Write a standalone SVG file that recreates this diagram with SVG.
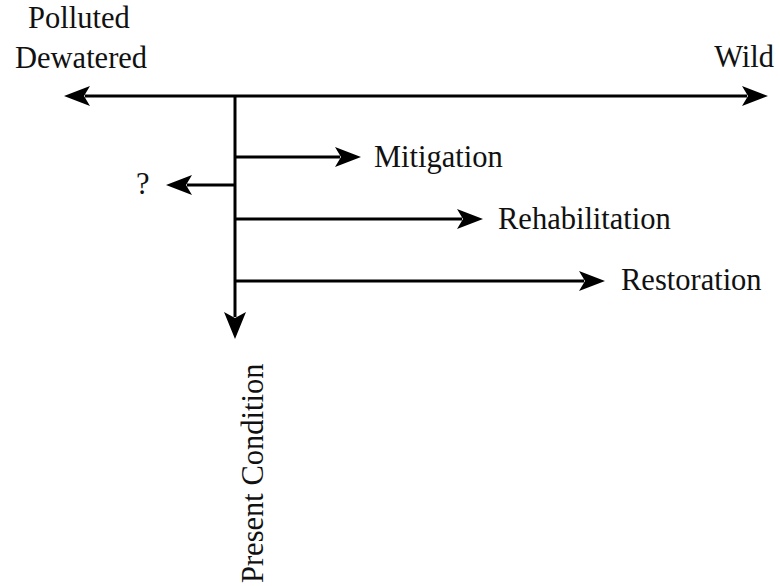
<svg xmlns="http://www.w3.org/2000/svg" width="780" height="586" viewBox="0 0 780 586">
<style>
.ln{stroke:#000;stroke-width:3;fill:none}
text{font-family:'Liberation Serif','Times New Roman',serif;font-size:30.5px;fill:#111}
</style>
<defs>
<marker id="ah" markerUnits="userSpaceOnUse" viewBox="0 0 26 20" refX="5" refY="10" markerWidth="26" markerHeight="20" orient="auto">
<path d="M0,0 L26,10 L0,20 L6,10 Z" fill="#000"/>
</marker>
<marker id="ahs" markerUnits="userSpaceOnUse" viewBox="0 0 26 20" refX="5" refY="10" markerWidth="26" markerHeight="20" orient="auto-start-reverse">
<path d="M0,0 L26,10 L0,20 L6,10 Z" fill="#000"/>
</marker>
<marker id="ahv" markerUnits="userSpaceOnUse" viewBox="0 0 27 22" refX="5" refY="11" markerWidth="27" markerHeight="22" orient="auto">
<path d="M0,0 L27,11 L0,22 L6,11 Z" fill="#000"/>
</marker>
</defs>
<g id="connectors">
<line class="ln" x1="85" y1="96" x2="747" y2="96" marker-start="url(#ahs)" marker-end="url(#ah)"/>
<line class="ln" x1="235" y1="96" x2="235" y2="317" marker-end="url(#ahv)"/>
<line class="ln" x1="235" y1="157" x2="340" y2="157" marker-end="url(#ah)"/>
<line class="ln" x1="235" y1="185" x2="187" y2="185" marker-end="url(#ah)"/>
<line class="ln" x1="235" y1="219" x2="462" y2="219" marker-end="url(#ah)"/>
<line class="ln" x1="235" y1="281" x2="584" y2="281" marker-end="url(#ah)"/>
</g>
<g id="polluted"><text x="28" y="28">Polluted</text></g>
<g id="dewatered"><text x="15" y="68">Dewatered</text></g>
<g id="wild"><text x="774" y="67" text-anchor="end">Wild</text></g>
<g id="mitigation"><text x="374" y="167">Mitigation</text></g>
<g id="question"><text x="136" y="194">?</text></g>
<g id="rehabilitation"><text x="498" y="229">Rehabilitation</text></g>
<g id="restoration"><text x="621" y="290">Restoration</text></g>
<g id="present"><text transform="translate(263,583) rotate(-90)">Present Condition</text></g>
</svg>
